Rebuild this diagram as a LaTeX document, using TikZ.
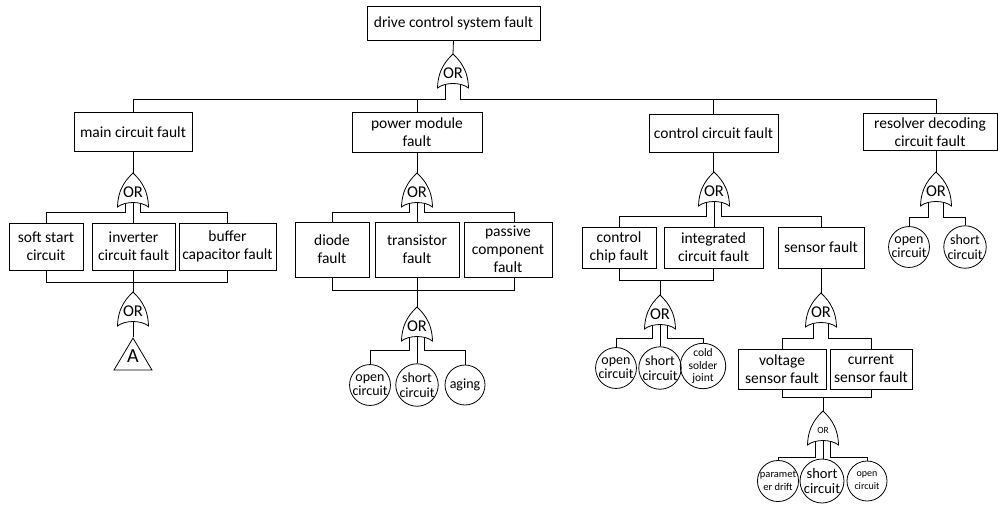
\documentclass[tikz,border=0pt]{standalone}
\usepackage{fontspec}
\setmainfont{Carlito}
\usetikzlibrary{shapes.geometric}
\begin{document}
\begin{tikzpicture}[x=1pt,y=-1pt,line width=0.8pt,
  box/.style={draw,rectangle,inner sep=0pt,align=center,font=\fontsize{15.5}{18}\selectfont},
  ev/.style={draw,circle,inner sep=0pt,minimum size=40pt,align=center,font=\fontsize{14}{14.5}\selectfont},
  orgate/.pic={
    \path[draw,fill=white] (0,0) .. controls (-5,5) and (-15,14) .. (-15.5,34)
      .. controls (-8,28) and (8,28) .. (15.5,34)
      .. controls (15,14) and (5,5) .. (0,0) -- cycle;
    \node[inner sep=0pt,font=#1] at (0,19) {OR};
    \coordinate (-tip) at (0,0);
    \coordinate (-l) at (-7.5,30);
    \coordinate (-r) at (7.5,30);
    \coordinate (-c) at (0,29.5);
  }]
\useasboundingbox (0,0) rectangle (1000,504);
\def\orf{\fontsize{16.5}{16.5}\selectfont}
% ---------- top ----------
\node[box,minimum width=173pt,minimum height=34pt] (top) at (453.5,23) {drive control system fault};
\pic (g0) at (453,54) {orgate=\orf};
\coordinate (bus0) at (0,99);
% level 1
\node[box,minimum width=118pt,minimum height=39pt] (main) at (133,132) {main circuit fault};
\node[box,minimum width=130pt,minimum height=40pt] (pm) at (417,132) {power module\\fault};
\node[box,minimum width=129pt,minimum height=38pt] (cc) at (713.5,133) {control circuit fault};
\node[box,minimum width=134pt,minimum height=37pt] (res) at (930,132) {resolver decoding\\circuit fault};
\draw (top.south) -- (g0-tip);
\draw (g0-l) -- (g0-l |- bus0) -| (main.north);
\draw (pm.north) -- (pm.north |- bus0);
\draw (g0-r) -- (g0-r |- bus0) -- (936,99) coordinate (resb) -- (resb |- res.north);
\draw (cc.north) -- (cc.north |- bus0);
% ---------- main circuit ----------
\pic (gm) at (133,173) {orgate=\orf};
\coordinate (busM) at (0,212);
\node[box,minimum width=74pt,minimum height=47pt] (ss) at (46,246.5) {soft start\\circuit};
\node[box,minimum width=83pt,minimum height=47pt] (inv) at (133.5,246.5) {inverter\\circuit fault};
\node[box,minimum width=97pt,minimum height=47pt] (buf) at (227.5,246.5) {buffer\\capacitor fault};
\draw (main.south) -- (gm-tip);
\draw (gm-l) -- (gm-l |- busM) -| (ss.north);
\draw (gm-r) -- (gm-r |- busM) -| (buf.north);
\draw (gm-c) -- (gm-c |- inv.north);
\coordinate (busMb) at (0,282);
\pic (ga) at (133,292) {orgate=\orf};
\draw (ss.south) -- (ss.south |- busMb) -| (buf.south);
\draw (ga-tip |- inv.south) -- (ga-tip);
\node[draw,isosceles triangle,isosceles triangle stretches,shape border rotate=90,
  inner sep=0pt,minimum height=32pt,minimum width=38pt,anchor=apex] (tri) at (133,337) {};
\node[font=\fontsize{20}{20}\selectfont] (triA) at (133,356) {A};
\draw (ga-c) -- (tri.apex);
% ---------- power module ----------
\pic (gp) at (417,173) {orgate=\orf};
\coordinate (busP) at (0,212);
\node[box,minimum width=74pt,minimum height=55pt] (dio) at (332,249.5) {diode\\fault};
\node[box,minimum width=84pt,minimum height=55pt] (tr) at (417,249.5) {transistor\\fault};
\node[box,minimum width=88pt,minimum height=55pt] (pc) at (508,249.5) {passive\\component\\fault};
\draw (pm.south) -- (gp-tip);
\draw (gp-l) -- (gp-l |- busP) -| (dio.north);
\draw (gp-r) -- (gp-r |- busP) -- (514,212) coordinate (pcb) -- (pcb |- pc.north);
\draw (gp-c) -- (tr.north);
\coordinate (busPb) at (0,290);
\draw (dio.south) -- (dio.south |- busPb) -- (514,290) coordinate (pcc) -- (pcc |- pc.south);
\pic (gp2) at (417,307) {orgate=\orf};
\draw (tr.south) -- (gp2-tip);
\coordinate (busP2) at (0,350);
\node[ev] (po) at (370,385) {open\\circuit};
\node[ev] (ps) at (417,385) {short\\circuit};
\node[ev] (pa) at (465,385) {aging};
\draw (gp2-l) -- (gp2-l |- busP2) -| (po.north);
\draw (gp2-r) -- (gp2-r |- busP2) -| (pa.north);
\draw (gp2-c) -- (ps.north);
% ---------- control circuit ----------
\pic (gc) at (714,172) {orgate=\orf};
\coordinate (busC) at (0,216);
\node[box,minimum width=74pt,minimum height=41pt] (chip) at (619,247.5) {control\\chip fault};
\node[box,minimum width=99pt,minimum height=41pt] (ic) at (713.5,247.5) {integrated\\circuit fault};
\node[box,minimum width=86pt,minimum height=41pt] (sens) at (821,247.5) {sensor fault};
\draw (cc.south) -- (cc.south |- gc-tip) -- (gc-tip);
\draw (gc-l) -- (gc-l |- busC) -| (chip.north);
\draw (gc-r) -- (gc-r |- busC) -| (sens.north);
\draw (gc-c) -- (gc-c |- ic.north);
\coordinate (busCb) at (0,280);
\draw (chip.south) -- (chip.south |- busCb) -| (ic.south);
\pic (gc2) at (660,295) {orgate=\orf};
\draw (gc2-tip) -- (gc2-tip |- busCb);
\coordinate (busC2) at (0,338);
\node[ev] (co) at (616,368) {open\\circuit};
\node[ev] (cs) at (660,368) {short\\circuit};
\node[ev,font=\fontsize{11.5}{12.5}\selectfont] (cj) at (703,366) {cold\\solder\\joint};
\draw (gc2-l) -- (gc2-l |- busC2) -| (co.north);
\draw (gc2-r) -- (gc2-r |- busC2) -| (cj.north);
\draw (gc2-c) -- (cs.north);
% ---------- sensor ----------
\pic (gs) at (821,293) {orgate=\orf};
\draw (sens.south) -- (gs-tip);
\coordinate (busS) at (0,338);
\node[box,minimum width=88pt,minimum height=40pt] (vs) at (782,369) {voltage\\sensor fault};
\node[box,minimum width=82pt,minimum height=40pt] (cur) at (871,369) {current\\sensor fault};
\draw (gs-l) -- (gs-l |- busS) -| (vs.north);
\draw (gs-r) -- (gs-r |- busS) -| (cur.north);
\coordinate (busSb) at (0,397);
\draw (vs.south) -- (vs.south |- busSb) -| (cur.south);
\pic (gs2) at (823,411) {orgate=\fontsize{9.5}{9.5}\selectfont};
\draw (gs2-tip) -- (gs2-tip |- busSb);
\coordinate (busS2) at (0,457);
\node[ev,font=\fontsize{10.5}{13}\selectfont] (sp) at (778,481) {paramet\\er drift};
\node[ev,font=\fontsize{14.5}{15}\selectfont] (ssh) at (822,481) {short\\circuit};
\node[ev,font=\fontsize{10}{13}\selectfont] (so) at (867,481) {open\\circuit};
\draw (gs2-l) -- (gs2-l |- busS2) -| (sp.north);
\draw (gs2-r) -- (gs2-r |- busS2) -| (so.north);
\draw (gs2-c) -- (gs2-c |- ssh.north);
% ---------- resolver ----------
\pic (gr) at (936,172) {orgate=\orf};
\draw (gr-tip |- res.south) -- (gr-tip);
\coordinate (busR) at (0,217);
\node[ev] (ro) at (909,247) {open\\circuit};
\node[ev] (rs) at (965,247) {short\\circuit};
\draw (gr-l) -- (gr-l |- busR) -| (ro.north);
\draw (gr-r) -- (gr-r |- busR) -| (rs.north);
\end{tikzpicture}
\end{document}
